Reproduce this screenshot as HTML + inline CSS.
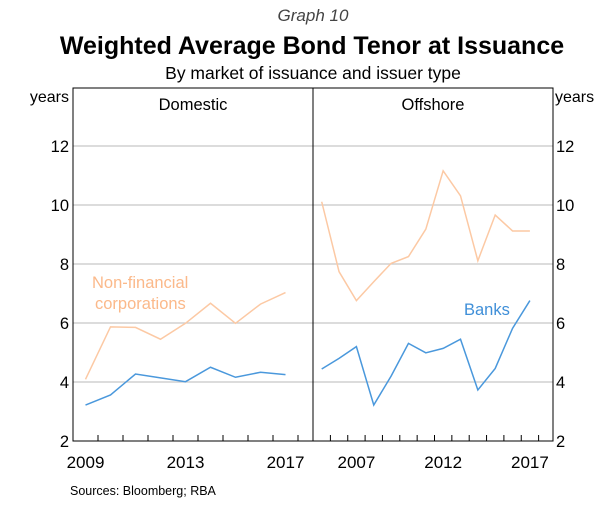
<!DOCTYPE html>
<html><head><meta charset="utf-8"><style>
body{margin:0;background:#fff;width:607px;height:506px;overflow:hidden}
svg text{font-family:"Liberation Sans",sans-serif}
</style></head><body>
<svg id="chart" width="607" height="506">
<text x="313" y="21" text-anchor="middle" font-size="17" font-style="italic" fill="#444">Graph 10</text>
<text x="312" y="54" text-anchor="middle" font-size="25" font-weight="bold">Weighted Average Bond Tenor at Issuance</text>
<text x="313" y="79" text-anchor="middle" font-size="17.5">By market of issuance and issuer type</text>
<text x="69" y="102" text-anchor="end" font-size="16">years</text>
<text x="555" y="102" font-size="16">years</text>
<text x="193" y="110" text-anchor="middle" font-size="16.5">Domestic</text>
<text x="433" y="110" text-anchor="middle" font-size="16.5">Offshore</text>
<g id="grid"></g><g id="ticks"></g><g id="series"></g>
<rect x="73" y="88" width="480" height="353" fill="none" stroke="#000" stroke-width="1"/>
<line x1="313" y1="88" x2="313" y2="441" stroke="#000"/>
<text x="92" y="288" font-size="16.5" fill="#fbb98a">Non-financial</text>
<text x="95" y="309" font-size="16.5" fill="#fbb98a">corporations</text>
<text x="464" y="315" font-size="16.5" fill="#3f8fd8">Banks</text>
<text x="70" y="495" font-size="12.5">Sources:  Bloomberg; RBA</text>
</svg>
<script>
const yTicks=[2,4,6,8,10,12];
const domYears=[2009,2010,2011,2012,2013,2014,2015,2016,2017];
const domNFC=[4.09,5.87,5.85,5.45,5.99,6.67,5.99,6.64,7.03];
const domBanks=[3.22,3.56,4.27,4.14,4.01,4.50,4.16,4.33,4.25];
const offYears=[2005,2006,2007,2008,2009,2010,2011,2012,2013,2014,2015,2016,2017];
const offNFC=[10.11,7.74,6.76,7.40,8.02,8.25,9.18,11.16,10.31,8.11,9.66,9.12,9.12];
const offBanks=[4.44,4.80,5.20,3.22,4.20,5.31,4.99,5.14,5.45,3.73,4.46,5.82,6.76];
const domLabels=[2009,2013,2017];
const offLabels=[2007,2012,2017];
const NS='http://www.w3.org/2000/svg';
const y=v=>441-(v-2)*29.5;
const xd=yr=>85.5+25*(yr-2009);
const xo=yr=>321.7+17.35*(yr-2005);
function mk(tag,attrs,parent){const e=document.createElementNS(NS,tag);for(const k in attrs)e.setAttribute(k,attrs[k]);document.getElementById(parent).appendChild(e);return e;}
yTicks.forEach(v=>{
  if(v>2){const l=mk('line',{x1:73,x2:553,y1:y(v),y2:y(v),stroke:'#c8c8c8','stroke-width':1.3},'grid');
  
  }
  const a=mk('text',{x:69,y:y(v)+6,'text-anchor':'end','font-size':16.5},'grid');a.textContent=v;
  
  
  const b=mk('text',{x:556,y:y(v)+6,'font-size':16.5},'grid');b.textContent=v;
  
  
});
domYears.forEach(yr=>{const t=mk('line',{x1:xd(yr)+12.5,x2:xd(yr)+12.5,y1:441,y2:435,stroke:'#000'},'ticks');
  
  });
offYears.forEach(yr=>{const t=mk('line',{x1:xo(yr)+8.7,x2:xo(yr)+8.7,y1:441,y2:435,stroke:'#000'},'ticks');
  
  });
domLabels.forEach(yr=>{const t=mk('text',{x:xd(yr),y:468,'text-anchor':'middle','font-size':17},'ticks');t.textContent=yr;
  
  });
offLabels.forEach(yr=>{const t=mk('text',{x:xo(yr),y:468,'text-anchor':'middle','font-size':17},'ticks');t.textContent=yr;
  
  });
function line(xs,vs,fx,col,name){
  const p=mk('polyline',{points:xs.map((yr,i)=>fx(yr)+','+y(vs[i])).join(' '),fill:'none',stroke:col,'stroke-width':1.5},'series');
  
  
}
line(domYears,domNFC,xd,'#fcc9a4','line-domestic-non-financial');
line(domYears,domBanks,xd,'#4a98dc','line-domestic-banks');
line(offYears,offNFC,xo,'#fcc9a4','line-offshore-non-financial');
line(offYears,offBanks,xo,'#4a98dc','line-offshore-banks');
</script>
</body></html>
